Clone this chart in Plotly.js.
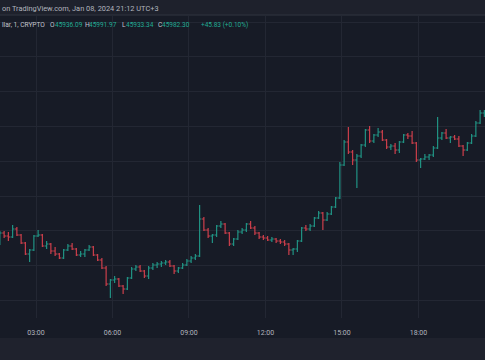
<!DOCTYPE html>
<html>
<head>
<meta charset="utf-8">
<script src="https://cdn.plot.ly/plotly-3.0.1.min.js"></script>
<style>
  html, body { margin: 0; padding: 0; background: #171b26; }
  #chart { width: 485px; height: 360px; }
</style>
</head>
<body>
<div id="chart"></div>
<script>
// 10-minute bars, first bar centred at 01:35
const firstCandle = Date.UTC(2024, 0, 8, 1, 35);
const candleMinutes = 10;

const openPrices = [
  44017,44167,44122,44107,44227,44137,44017,43852,43912,44122,
  44137,43972,44002,43897,43852,43792,43912,43972,43927,43837,
  43852,43912,43957,43837,43762,43642,43402,43462,43477,43372,
  43327,43492,43627,43657,43597,43522,43642,43687,43702,43717,
  43732,43672,43597,43642,43687,43747,43792,43822,44377,44212,
  44122,44137,44272,44302,44167,44002,44077,44182,44212,44302,
  44242,44167,44107,44092,44062,44077,44047,44032,44002,43912,
  43927,44047,44242,44227,44272,44392,44467,44362,44452,44557,
  44692,45187,45532,45382,45262,45322,45487,45712,45547,45637,
  45682,45562,45457,45472,45412,45532,45637,45622,45517,45262,
  45277,45307,45337,45442,45592,45667,45592,45607,45577,45472,
  45412,45517,45622,45817,45967
];
const highPrices = [
  44197,44197,44182,44287,44257,44152,44032,43927,44137,44212,
  44152,44047,44017,43957,43867,43927,44002,44017,43942,43897,
  43927,43987,43972,43852,43792,43672,43477,43522,43492,43387,
  43507,43657,43687,43687,43612,43672,43717,43732,43747,43762,
  43762,43687,43657,43717,43777,43822,43852,44587,44407,44242,
  44152,44287,44347,44317,44182,44092,44212,44242,44317,44347,
  44272,44182,44137,44122,44107,44092,44077,44062,44017,43942,
  44062,44257,44287,44302,44407,44497,44482,44482,44572,44707,
  45232,45562,45757,45412,45352,45502,45727,45772,45652,45742,
  45712,45577,45502,45517,45547,45652,45667,45697,45532,45292,
  45352,45352,45472,45907,45682,45727,45622,45637,45622,45487,
  45532,45652,45847,46012,46012
];
const lowPrices = [
  43987,44092,44047,44092,44122,44002,43837,43732,43897,44107,
  43957,43927,43852,43822,43777,43777,43897,43912,43822,43807,
  43807,43897,43822,43747,43627,43372,43192,43417,43357,43252,
  43312,43477,43597,43582,43492,43477,43612,43642,43657,43687,
  43657,43552,43567,43627,43672,43717,43762,43807,44197,44092,
  44017,44107,44242,44152,43972,43972,44062,44152,44182,44227,
  44137,44077,44062,44047,44032,44017,44002,43972,43837,43837,
  43882,44032,44197,44197,44257,44377,44212,44347,44437,44542,
  44677,45172,45352,45187,44842,45292,45457,45517,45517,45607,
  45547,45427,45412,45352,45367,45517,45577,45502,45232,45142,
  45262,45262,45307,45427,45562,45577,45517,45562,45457,45322,
  45397,45502,45607,45802,45907
];
const closePrices = [
  44167,44122,44107,44227,44137,44017,43852,43912,44122,44137,
  43972,44002,43897,43852,43792,43912,43972,43927,43837,43852,
  43912,43957,43837,43762,43642,43402,43462,43477,43372,43327,
  43492,43627,43657,43597,43522,43642,43687,43702,43717,43732,
  43672,43597,43642,43687,43747,43792,43822,44377,44212,44122,
  44137,44272,44302,44167,44002,44077,44182,44212,44302,44242,
  44167,44107,44092,44062,44077,44047,44032,44002,43912,43927,
  44047,44242,44227,44272,44392,44467,44362,44452,44557,44692,
  45187,45532,45382,45262,45322,45487,45712,45547,45637,45682,
  45562,45457,45472,45412,45532,45637,45622,45517,45262,45277,
  45307,45337,45442,45592,45667,45592,45607,45577,45472,45412,
  45517,45622,45817,45967,45982
];

const xTickLabels = ['03:00', '06:00', '09:00', '12:00', '15:00', '18:00'];
const headerText = 'on TradingView.com, Jan 08, 2024 21:12 UTC+3';
const symbolText = 'llar, 1, CRYPTO';
const legendLetters = ['O', 'H', 'L', 'C'];
const legendValues = ['45936.09', '45991.97', '45933.34', '45982.30'];
const changeText = '+45.83 (+0.10%)';

function fmt(ms) {
  return new Date(ms).toISOString().slice(0, 16).replace('T', ' ');
}
const times = openPrices.map((_, i) => fmt(firstCandle + i * candleMinutes * 60000));

const GREEN = '#22a08e';
const RED = '#e0434f';

const trace = {
  type: 'ohlc',
  x: times,
  open: openPrices,
  high: highPrices,
  low: lowPrices,
  close: closePrices,
  tickwidth: 0.45,
  increasing: { line: { color: GREEN, width: 1.2 } },
  decreasing: { line: { color: RED, width: 1.2 } },
  opacity: 0.9,
  hoverinfo: 'skip',
  showlegend: false
};

// plot area: top 16px, bottom 318px
const H = 360, TOP = 16, BOT = 318;
const py = p => (BOT - p) / (BOT - TOP);
const px = p => p / 485;

const headFont = { family: 'Roboto, sans-serif', size: 7.4, color: '#b2b5be' };
const legFont = { family: 'Roboto, sans-serif', size: 6.6, color: '#c3c6ce' };
const valFont = { family: 'Roboto, sans-serif', size: 6.5, color: '#22ab94' };
const ann = (text, x, y, font) => ({ text, x: px(x), y: py(y), xref: 'paper', yref: 'paper', xanchor: 'left', yanchor: 'middle', showarrow: false, font });

const annotations = [ann(headerText, 0, 8.5, headFont), ann(symbolText, 0, 25, legFont)];
const letterX = [48, 83, 120, 156];
const valueX = [53, 87, 124, 160];
legendLetters.forEach((l, i) => {
  annotations.push(ann(l, letterX[i], 25, legFont));
  annotations.push(ann(legendValues[i], valueX[i], 25, valFont));
});
annotations.push(ann(changeText, 199, 25, valFont));

const layout = {
  width: 485, height: 360,
  margin: { l: 0, r: 0, t: TOP, b: H - BOT, pad: 0 },
  paper_bgcolor: '#171b26',
  plot_bgcolor: '#171b26',
  showlegend: false,
  xaxis: {
    type: 'date',
    range: ['2024-01-08 01:35:18', '2024-01-08 20:36:30'],
    tickmode: 'array',
    tickvals: xTickLabels.map(t => '2024-01-08 ' + t),
    ticktext: xTickLabels,
    showgrid: true, gridcolor: '#232733', gridwidth: 1,
    zeroline: false, showline: false, ticks: '',
    ticklabelstandoff: 9,
    tickfont: { family: 'Roboto, sans-serif', size: 7, color: '#b2b5be' },
    rangeslider: { visible: false },
    fixedrange: true
  },
  yaxis: {
    range: [42892, 47422],
    tick0: 43154.5, dtick: 522,
    showgrid: true, gridcolor: '#232733', gridwidth: 1,
    zeroline: false, showline: false, showticklabels: false, ticks: '',
    fixedrange: true
  },
  shapes: [
    { type: 'rect', xref: 'paper', yref: 'paper', x0: -0.01, x1: 1.01, y0: py(15), y1: py(-1), fillcolor: '#1e212c', line: { width: 0 }, layer: 'above' },
    { type: 'line', xref: 'paper', yref: 'paper', x0: -0.01, x1: 1.01, y0: py(15), y1: py(15), line: { color: '#2a2e39', width: 1.5 }, layer: 'above' },
    { type: 'rect', xref: 'paper', yref: 'paper', x0: -0.01, x1: 1.01, y0: py(361), y1: py(338), fillcolor: '#1f222d', line: { width: 0 }, layer: 'above' }
  ],
  annotations: annotations
};

Plotly.newPlot('chart', [trace], layout, { staticPlot: true, displayModeBar: false });
</script>
</body>
</html>
